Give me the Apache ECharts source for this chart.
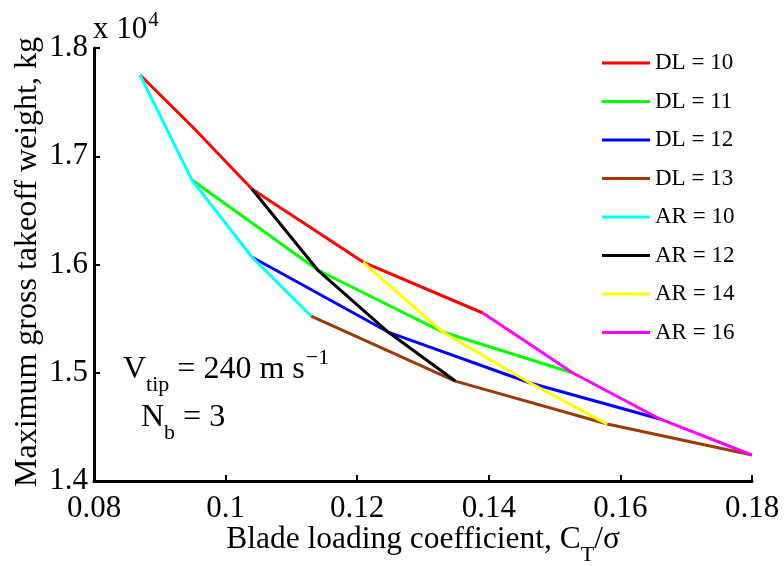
<!DOCTYPE html>
<html>
<head>
<meta charset="utf-8">
<script src="https://cdn.jsdelivr.net/npm/echarts@6/dist/echarts.min.js"></script>
<style>
  html, body { margin: 0; padding: 0; background: #fff; }
  #chart { width: 784px; height: 566px; }
</style>
</head>
<body>
<div id="chart"></div>
<script>
// Blade loading coefficient (x) vs maximum gross takeoff weight in 10^4 kg (y)
// Lines of constant disk loading (DL)
const DL10 = [[0.0870, 1.7751], [0.0950, 1.7270], [0.1040, 1.6697], [0.1209, 1.6023], [0.1391, 1.5552]];
const DL11 = [[0.0949, 1.6780], [0.1140, 1.5949], [0.1330, 1.5376], [0.1528, 1.4998]];
const DL12 = [[0.1040, 1.6069], [0.1247, 1.5376], [0.1463, 1.4905], [0.1660, 1.4573]];
const DL13 = [[0.1130, 1.5524], [0.1349, 1.4923], [0.1580, 1.4526], [0.1800, 1.4240]];
// Lines of constant aspect ratio (AR)
const AR10 = [[0.0870, 1.7751], [0.0949, 1.6780], [0.1040, 1.6069], [0.1130, 1.5524]];
const AR12 = [[0.1040, 1.6697], [0.1140, 1.5949], [0.1247, 1.5376], [0.1349, 1.4923]];
const AR14 = [[0.1209, 1.6023], [0.1330, 1.5376], [0.1463, 1.4905], [0.1580, 1.4526]];
const AR16 = [[0.1391, 1.5552], [0.1528, 1.4998], [0.1660, 1.4573], [0.1800, 1.4240]];

const seriesNames = ['DL = 10', 'DL = 11', 'DL = 12', 'DL = 13', 'AR = 10', 'AR = 12', 'AR = 14', 'AR = 16'];
const seriesData = [DL10, DL11, DL12, DL13, AR10, AR12, AR14, AR16];
const seriesColors = ['#ff0000', '#00ff00', '#0000ff', '#9c3a0a', '#00ffff', '#000000', '#ffff00', '#ff00ff'];

const xTicks = [0.08, 0.10, 0.12, 0.14, 0.16, 0.18];
const yTicks = [1.4, 1.5, 1.6, 1.7, 1.8];

const FONT = '"Liberation Serif", "Times New Roman", serif';

const chart = echarts.init(document.getElementById('chart'), null, { renderer: 'canvas' });

// text width helper for composing sub/superscripts
const mctx = document.createElement('canvas').getContext('2d');
function tw(text, size) {
  mctx.font = size + 'px ' + FONT;
  return mctx.measureText(text).width;
}
// place a text run by its baseline
function run(text, x, baseline, size) {
  return {
    type: 'text', x: x, y: baseline - size * 0.33, silent: true,
    style: { text: text, fill: '#000', font: size + 'px ' + FONT, align: 'left', verticalAlign: 'middle' }
  };
}

const graphics = [];
// axis multiplier
(function () {
  const x0 = 93, b = 40;
  graphics.push(run('x 10', x0, b, 31));
  graphics.push(run('4', x0 + tw('x 10', 31) + 1, b - 13, 21));
})();
// V_tip annotation
(function () {
  let x = 123; const b = 380;
  graphics.push(run('V', x, b, 32)); x += tw('V', 32);
  graphics.push(run('tip', x, b + 12, 22)); x += tw('tip', 22);
  graphics.push(run(' = 240 m s', x, b, 32)); x += tw(' = 240 m s', 32);
  graphics.push(run('\u22121', x + 1, b - 15, 22));
})();
// N_b annotation
(function () {
  let x = 141; const b = 428;
  graphics.push(run('N', x, b, 32)); x += tw('N', 32);
  graphics.push(run('b', x, b + 12, 22)); x += tw('b', 22);
  graphics.push(run(' = 3', x, b, 32));
})();
// x-axis title with subscript
(function () {
  const main = 'Blade loading coefficient, C';
  const total = tw(main, 31.5) + tw('T', 22) + tw('/\u03c3', 31.5);
  let x = 423 - total / 2; const b = 550;
  graphics.push(run(main, x, b, 31.5)); x += tw(main, 31.5);
  graphics.push(run('T', x, b + 12, 22)); x += tw('T', 22);
  graphics.push(run('/\u03c3', x, b, 31.5));
})();
// y-axis title
graphics.push({
  type: 'text', x: 28, y: 262, rotation: Math.PI / 2, silent: true,
  style: { text: 'Maximum gross takeoff weight, kg', fill: '#000', font: '32px ' + FONT, align: 'center', verticalAlign: 'middle' }
});

const option = {
  animation: false,
  backgroundColor: '#fff',
  grid: { left: 94, right: 32, top: 48, bottom: 85, containLabel: false },
  legend: {
    orient: 'vertical', left: 597, top: 46,
    itemWidth: 48, itemHeight: 3, itemGap: 14.5,
    icon: 'rect',
    textStyle: { fontFamily: FONT, fontSize: 23, color: '#000', lineHeight: 24 },
    data: seriesNames
  },
  xAxis: {
    type: 'value', min: xTicks[0], max: xTicks[xTicks.length - 1], interval: 0.02,
    axisLine: { show: true, onZero: false, lineStyle: { color: '#000', width: 3 } },
    axisTick: { show: true, inside: true, length: 6, lineStyle: { color: '#000', width: 2 } },
    axisLabel: {
      margin: 12, fontFamily: FONT, fontSize: 31, color: '#000',
      formatter: v => String(parseFloat(v.toFixed(2)))
    },
    splitLine: { show: false }
  },
  yAxis: {
    type: 'value', min: yTicks[0], max: yTicks[yTicks.length - 1], interval: 0.1,
    axisLine: { show: true, onZero: false, lineStyle: { color: '#000', width: 3 } },
    axisTick: { show: true, inside: true, length: 6, lineStyle: { color: '#000', width: 2 } },
    axisLabel: {
      margin: 6, fontFamily: FONT, fontSize: 31, color: '#000',
      formatter: v => v.toFixed(1)
    },
    splitLine: { show: false }
  },
  series: seriesNames.map((name, i) => ({
    name: name, type: 'line', data: seriesData[i],
    symbol: 'none', showSymbol: false,
    lineStyle: { color: seriesColors[i], width: 3 },
    itemStyle: { color: seriesColors[i] },
    z: 2 + i
  })),
  graphic: graphics
};

chart.setOption(option);
</script>
</body>
</html>
